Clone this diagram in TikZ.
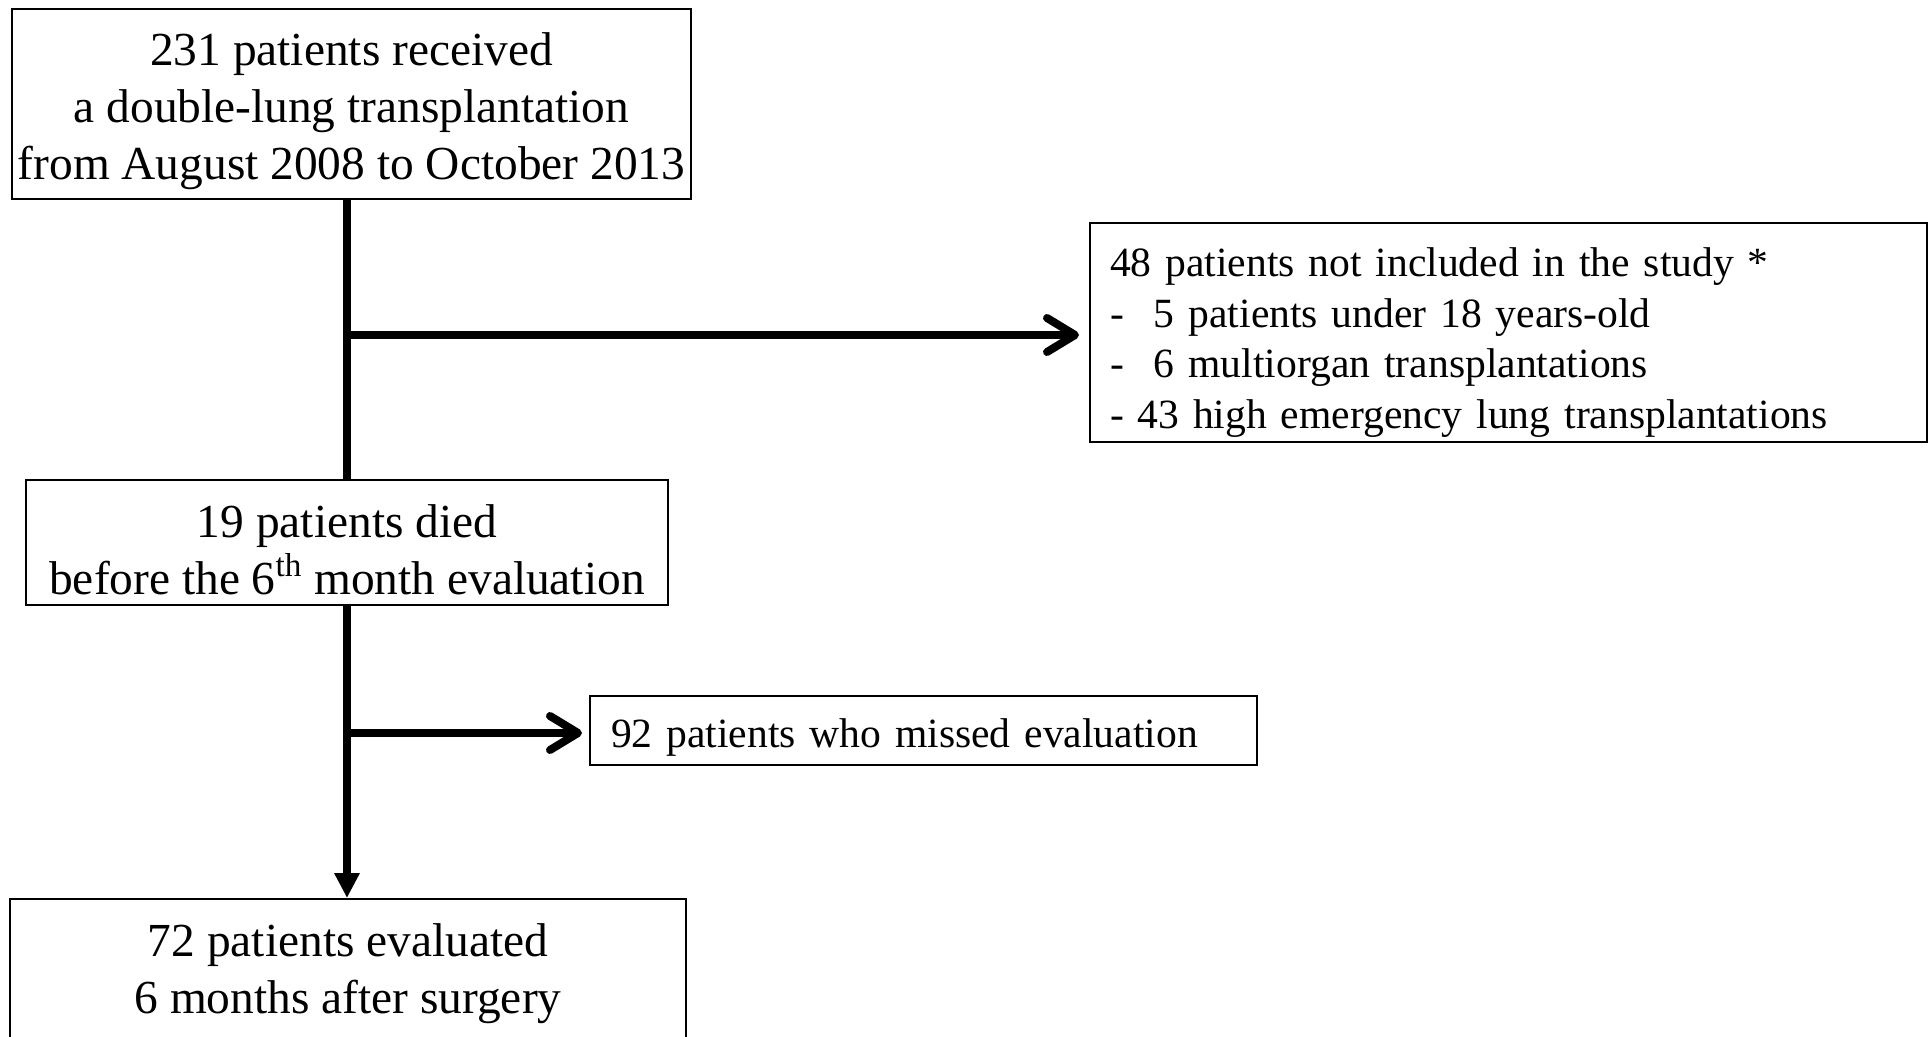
\documentclass[tikz,border=0pt]{standalone}
\usepackage{fontspec}
\setmainfont{Liberation Serif}
\usetikzlibrary{arrows.meta}
\begin{document}
\begin{tikzpicture}[x=0.5pt,y=-0.5pt,
  box/.style={draw, line width=1pt, inner sep=0pt},
  txt/.style={inner sep=0pt, align=center},
  big/.style={font=\fontsize{23.7pt}{28.5pt}\selectfont},
  small/.style={font=\fontsize{20.8pt}{25.3pt}\selectfont},
  flow/.style={line width=4pt},
  barb/.style={flow, line cap=round, -{Straight Barb[length=14pt,width=17pt,round]}},
  tri/.style={flow, -{Triangle[length=12.5pt,width=12pt]}}
  ]
\useasboundingbox (0,0) rectangle (1929,1037);
% boxes
\node[box,minimum width=339.5pt,minimum height=95pt] (b1) at (351.5,104) {};
\node[box,minimum width=418.5pt,minimum height=109.5pt] (b2) at (1508.5,332.5) {};
\node[box,minimum width=321pt,minimum height=62.5pt] (b3) at (347,542.5) {};
\node[box,minimum width=333.5pt,minimum height=34.5pt] (b4) at (923.5,730.5) {};
\node[box,minimum width=338pt,minimum height=73pt] (b5) at (348,972) {};
% texts
\node[txt,big] (t1) at ([yshift=-3.5pt]b1.center)
  {231 patients received\\a double-lung transplantation\\from August 2008 to October 2013};
\node[txt,small,align=left,text width=398.5pt] (t2) at ([yshift=-5pt]b2.center)
  {48 patients not included in the study *\\
   \makebox[22pt][l]{-}5 patients under 18 years-old\\
   \makebox[22pt][l]{-}6 multiorgan transplantations\\
   - 43 high emergency lung transplantations};
\node[txt,big] (t3) at ([yshift=-3.7pt]b3.center)
  {19 patients died\\before the 6\textsuperscript{th} month evaluation};
\node[txt,small,align=left,text width=312.5pt] (t4) at ([yshift=-3.7pt]b4.center)
  {92 patients who missed evaluation};
\node[txt,big] (t5) at ([yshift=-0.6pt]b5.center)
  {72 patients evaluated\\6 months after surgery};
% connectors
\coordinate (j1) at (347,335);
\coordinate (j2) at (347,733);
\draw[flow] (b1.south -| b3.north) -- (b3.north);
\draw[barb, shorten >=5pt] (j1) -- (j1 -| b2.west);
\draw[barb, shorten >=3.5pt] (j2) -- (j2 -| b4.west);
\draw[tri] (b3.south) -- (b3.south |- b5.north);
\end{tikzpicture}
\end{document}
